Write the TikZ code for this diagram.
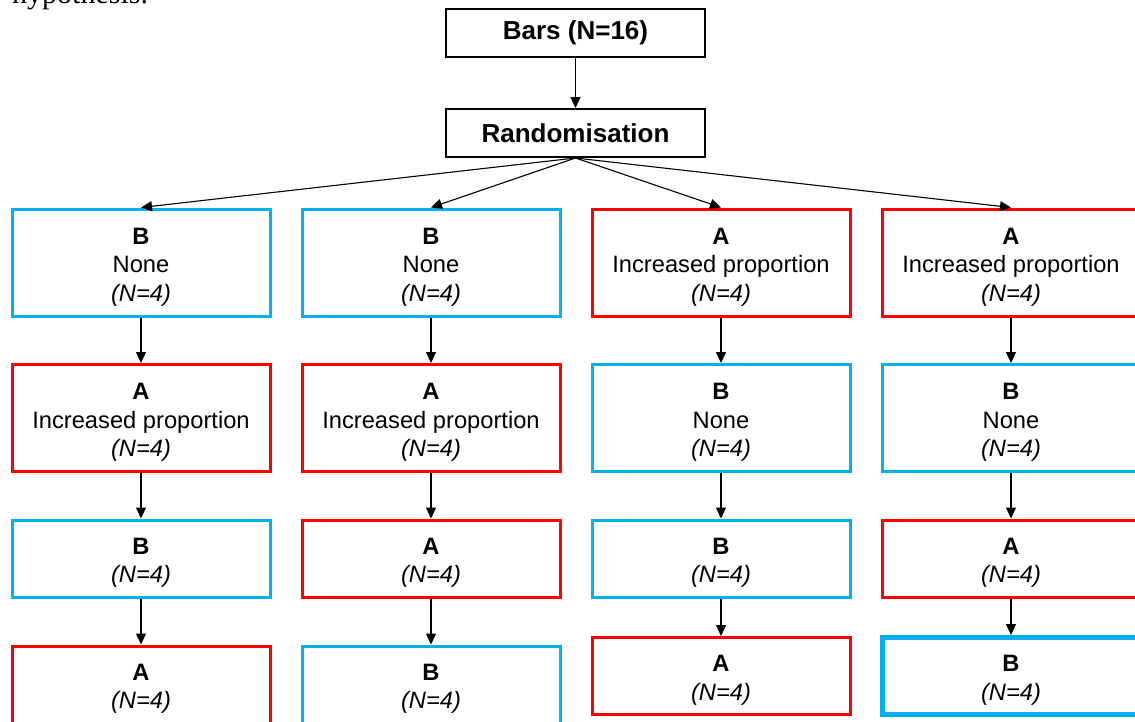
\documentclass[tikz,border=0pt]{standalone}
\usepackage{fontspec}
\setmainfont{Liberation Sans}
\newfontfamily\serifont{Liberation Serif}
\usetikzlibrary{arrows.meta}
\definecolor{cblue}{RGB}{0,176,240}
\definecolor{cred}{RGB}{255,0,0}
\tikzset{
  topbox/.style={draw=black, line width=2pt, minimum width=259pt, minimum height=48pt, inner sep=0pt, font=\fontsize{26}{30}\selectfont\bfseries},
  armbox/.style={line width=3pt, minimum width=258pt, inner sep=0pt},
  tall/.style={minimum height=107pt},
  short/.style={minimum height=77pt},
  bbox/.style={armbox, draw=cblue},
  abox/.style={armbox, draw=cred},
  armtext/.style={inner sep=0pt, align=center, yshift=-4.5pt, font=\fontsize{23.7}{28.5}\selectfont},
  conn/.style={line width=1.1pt, -{Triangle[length=11pt,width=10pt]}},
}
\begin{document}
\begin{tikzpicture}[x=1pt,y=-1pt]
\useasboundingbox (0,0) rectangle (1135,721);
\clip (0,0) rectangle (1135,721);
\node[anchor=base west, inner sep=0pt, font=\serifont\fontsize{30}{36}\selectfont] (hyp) at (12,3.5) {hypothesis.};
\node[topbox] (bars) at (575.5,33) {Bars (N=16)};
\node[topbox] (rand) at (575.5,133) {Randomisation};
% column 1
\node[bbox,tall] (c1r1) at (141,262.5) {};
\node[abox,tall] (c1r2) at (141,418) {};
\node[bbox,short] (c1r3) at (141,558.5) {};
\node[abox,short] (c1r4) at (141,684.5) {};
% column 2
\node[bbox,tall] (c2r1) at (431,262.5) {};
\node[abox,tall] (c2r2) at (431,418) {};
\node[abox,short] (c2r3) at (431,558.5) {};
\node[bbox,short] (c2r4) at (431,684.5) {};
% column 3
\node[abox,tall] (c3r1) at (721,262.5) {};
\node[bbox,tall] (c3r2) at (721,418) {};
\node[bbox,short] (c3r3) at (721,558.5) {};
\node[abox,short] (c3r4) at (721,676) {};
% column 4
\node[abox,tall] (c4r1) at (1011,262.5) {};
\node[bbox,tall] (c4r2) at (1011,418) {};
\node[abox,short] (c4r3) at (1011,558.5) {};
\node[bbox,short,line width=5pt] (c4r4) at (1011,676) {};
% texts
\node[armtext] (t1r1) at (c1r1.center) {\textbf{B}\\None\\\textit{(N=4)}};
\node[armtext] (t1r2) at (c1r2.center) {\textbf{A}\\Increased proportion\\\textit{(N=4)}};
\node[armtext] (t1r3) at (c1r3.center) {\textbf{B}\\\textit{(N=4)}};
\node[armtext] (t1r4) at (c1r4.center) {\textbf{A}\\\textit{(N=4)}};
\node[armtext] (t2r1) at (c2r1.center) {\textbf{B}\\None\\\textit{(N=4)}};
\node[armtext] (t2r2) at (c2r2.center) {\textbf{A}\\Increased proportion\\\textit{(N=4)}};
\node[armtext] (t2r3) at (c2r3.center) {\textbf{A}\\\textit{(N=4)}};
\node[armtext] (t2r4) at (c2r4.center) {\textbf{B}\\\textit{(N=4)}};
\node[armtext] (t3r1) at (c3r1.center) {\textbf{A}\\Increased proportion\\\textit{(N=4)}};
\node[armtext] (t3r2) at (c3r2.center) {\textbf{B}\\None\\\textit{(N=4)}};
\node[armtext] (t3r3) at (c3r3.center) {\textbf{B}\\\textit{(N=4)}};
\node[armtext] (t3r4) at (c3r4.center) {\textbf{A}\\\textit{(N=4)}};
\node[armtext] (t4r1) at (c4r1.center) {\textbf{A}\\Increased proportion\\\textit{(N=4)}};
\node[armtext] (t4r2) at (c4r2.center) {\textbf{B}\\None\\\textit{(N=4)}};
\node[armtext] (t4r3) at (c4r3.center) {\textbf{A}\\\textit{(N=4)}};
\node[armtext] (t4r4) at (c4r4.center) {\textbf{B}\\\textit{(N=4)}};
% connectors
\draw[conn] (bars.south) -- (rand.north);
\foreach \c in {1,2,3,4}{
  \draw[conn] (rand.south) -- (c\c r1.north);
  \draw[conn] (c\c r1.south) -- (c\c r2.north);
  \draw[conn] (c\c r2.south) -- (c\c r3.north);
  \draw[conn] (c\c r3.south) -- (c\c r4.north);
}
\end{tikzpicture}
\end{document}
